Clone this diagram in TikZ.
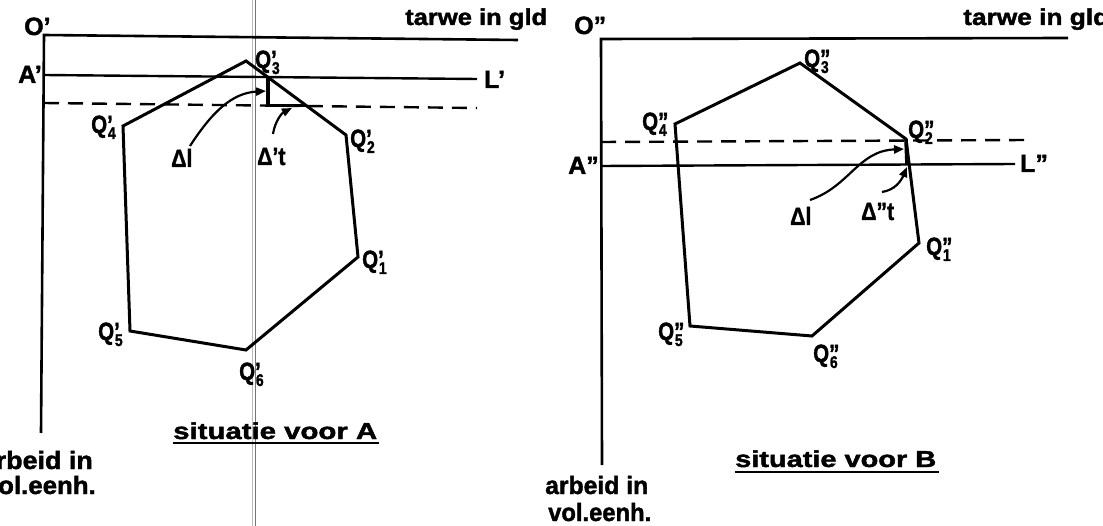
\documentclass[tikz,border=0pt]{standalone}
\usepackage{fontspec}
\setmainfont{Liberation Sans}[BoldFeatures={FakeBold=1.6}]
\usetikzlibrary{arrows.meta}
\newcommand\Ql[2]{\scalebox{0.82}[1]{Q\rlap{#1}\kern1pt\raisebox{-6pt}{\fontsize{17}{17}\selectfont#2}}}
\newcommand\Wd[2]{\resizebox{#1}{\height}{#2}}
\begin{document}
\begin{tikzpicture}[x=1pt,y=-1pt,
  axis/.style={line width=2.6pt},
  poly/.style={line width=3pt, line join=miter},
  lev/.style={line width=2.4pt},
  dline/.style={line width=2.4pt, dash pattern=on 15pt off 9pt},
  tri/.style={line width=3.6pt},
  arr/.style={line width=2.2pt, -{Triangle[length=10pt,width=8pt]}},
  lab/.style={font=\bfseries\fontsize{25}{25}\selectfont, inner sep=0pt, anchor=base west},
  txt/.style={font=\bfseries\fontsize{23}{23}\selectfont, inner sep=0pt},
  uline/.style={line width=1.6pt}]
\useasboundingbox (0,0) rectangle (1103,526);
\fill[white] (0,0) rectangle (1103,526);
% scan line
\draw[gray!55, line width=1.5pt] (252.5,0) -- (252.5,526);
\draw[black!55, line width=0.5pt] (254.8,0) -- (254.8,526);

% ---------- left diagram ----------
\coordinate (O1) at (44,35);
\coordinate (T1) at (518,40);
\coordinate (B1) at (41,433);
\coordinate (A1) at (44,75);
\coordinate (L1) at (477,79);
\coordinate (D1s) at (44,103);
\coordinate (D1e) at (477,108);
\coordinate (p1) at (358,257);
\coordinate (p2) at (346,135);
\coordinate (p3) at (246,61);
\coordinate (p4) at (123,126);
\coordinate (p5) at (130,331);
\coordinate (p6) at (246,350);
\coordinate (t1) at (268,77);
\coordinate (t2) at (268,105.5);
\coordinate (t3) at (307,105.5);

\draw[axis] (T1) -- (O1) -- (B1);
\draw[lev] (A1) -- (L1);
\draw[dline] (D1s) -- (D1e);
\draw[poly] (p1) -- (p2) -- (p3) -- (p4) -- (p5) -- (p6) -- cycle;
\draw[tri] (t1) -- (t2) -- (t3);

\node[lab] (lO1) at (24,35) {O’};
\node[lab] (lA1) at (18,83) {A’};
\node[lab] (lL1) at (484,88) {L’};
\node[txt, anchor=base west] (tw1) at (405,25) {\Wd{142pt}{tarwe in gld}};
\node[lab] (q3) at (255,68) {\Ql{’}{3}};
\node[lab] (q4) at (91,133) {\Ql{’}{4}};
\node[lab] (q2) at (350,147) {\Ql{’}{2}};
\node[lab] (q1) at (362,268) {\Ql{’}{1}};
\node[lab] (q5) at (98,340) {\Ql{’}{5}};
\node[lab] (q6) at (239,380) {\Ql{’}{6}};
\node[lab] (dl1) at (171,167) {\scalebox{0.85}[1]{Δl}};
\node[lab] (dt1) at (257,165) {\scalebox{0.85}[1]{Δ’t}};
\coordinate (dl1a) at (190,146);
\coordinate (dl1b) at (266,91);
\coordinate (dt1a) at (273,134);
\coordinate (dt1b) at (292,108);
\draw[arr] (dl1a) .. controls (212,112) and (232,93) .. (dl1b);
\draw[arr] (dt1a) .. controls (275,121) and (282,113) .. (dt1b);

\node[txt, anchor=base west] (sitA) at (173,439) {\Wd{204pt}{situatie voor A}};
\draw[uline] ([yshift=-4pt]sitA.base west) -- ([yshift=-4pt,xshift=2pt]sitA.base east);
\node[txt, anchor=base east, font=\bfseries\fontsize{25}{25}\selectfont] (arb1) at (93,469) {\Wd{112pt}{arbeid in}};
\node[txt, anchor=base east, font=\bfseries\fontsize{25}{25}\selectfont] (vol1) at (96,494) {\Wd{112pt}{vol.eenh.}};

% ---------- right diagram ----------
\coordinate (O2) at (601,39);
\coordinate (T2) at (1068,38);
\coordinate (B2) at (602,465);
\coordinate (A2) at (601,166);
\coordinate (L2) at (1015,164);
\coordinate (D2s) at (601,142);
\coordinate (D2e) at (1027,140);
\coordinate (r1) at (919,243);
\coordinate (r2) at (906,139);
\coordinate (r3) at (800,63);
\coordinate (r4) at (675,124);
\coordinate (r5) at (690,326);
\coordinate (r6) at (812,336);
\coordinate (s1) at (907,165);

\draw[axis] (T2) -- (O2) -- (B2);
\draw[lev] (A2) -- (L2);
\draw[dline] (D2s) -- (D2e);
\draw[poly] (r1) -- (r2) -- (r3) -- (r4) -- (r5) -- (r6) -- cycle;
\draw[tri] (r2) -- (s1);

\node[lab] (lO2) at (574,34) {O”};
\node[lab] (lA2) at (568,174) {A”};
\node[lab] (lL2) at (1020,172) {L”};
\node[txt, anchor=base west] (tw2) at (963,25) {\Wd{146pt}{tarwe in gld}};
\node[lab] (r3l) at (804,67) {\Ql{”}{3}};
\node[lab] (r4l) at (642,130) {\Ql{”}{4}};
\node[lab] (r2l) at (908,138) {\Ql{”}{2}};
\node[lab] (r1l) at (926,255) {\Ql{”}{1}};
\node[lab] (r5l) at (658,340) {\Ql{”}{5}};
\node[lab] (r6l) at (813,362) {\Ql{”}{6}};
\node[lab] (dl2) at (790,225) {\scalebox{0.85}[1]{Δl}};
\node[lab] (dt2) at (861,220) {\scalebox{0.85}[1]{Δ”t}};
\coordinate (dl2a) at (810,200);
\coordinate (dl2b) at (904,149);
\coordinate (dt2a) at (882,192);
\coordinate (dt2b) at (907,167);
\draw[arr] (dl2a) .. controls (850,186) and (858,151) .. (dl2b);
\draw[arr] (dt2a) .. controls (895,190) and (901,181) .. (dt2b);

\node[txt, anchor=base west] (sitB) at (735,467) {\Wd{201pt}{situatie voor B}};
\draw[uline] ([yshift=-5pt]sitB.base west) -- ([yshift=-5pt,xshift=3pt]sitB.base east);
\node[txt, anchor=base west, font=\bfseries\fontsize{25}{25}\selectfont] (arb2) at (545,494) {\Wd{103pt}{arbeid in}};
\node[txt, anchor=base west, font=\bfseries\fontsize{25}{25}\selectfont] (vol2) at (548,521) {\Wd{103pt}{vol.eenh.}};
\end{tikzpicture}
\end{document}
